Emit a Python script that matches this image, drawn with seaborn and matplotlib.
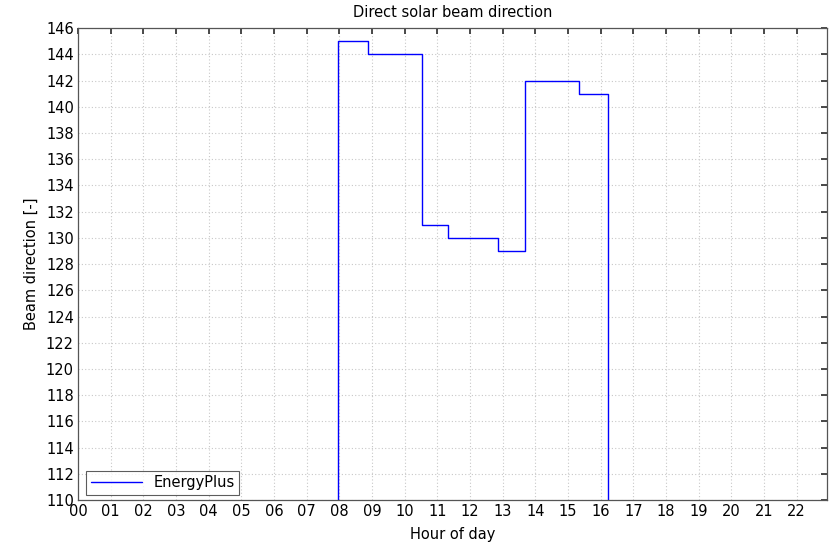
import matplotlib
matplotlib.use("Agg")
import matplotlib.pyplot as plt
import seaborn as sns
import pandas as pd
import numpy as np

# Data (step changes, hours of day)
hours = [0.0, 7.97, 8.87, 10.52, 11.33, 12.87, 13.67, 15.33, 16.23, 22.92]
beam_dir = [0, 145, 144, 131, 130, 129, 142, 141, 0, 0]
xtick_vals = list(range(0, 23))
xtick_labels = [f"{h:02d}" for h in xtick_vals]
ytick_vals = list(range(110, 147, 2))

df = pd.DataFrame({"Hour": hours, "Beam": beam_dir, "Series": "EnergyPlus"})

sns.set_theme(style="white")
plt.rcParams['font.family'] = ['DejaVu Sans']
plt.rcParams['text.color'] = 'black'
plt.rcParams['axes.labelcolor'] = 'black'

fig = plt.figure(figsize=(8.36, 5.43), dpi=100)
ax = fig.add_axes([0.0933, 0.0792, 0.8957, 0.8688])

sns.lineplot(data=df, x="Hour", y="Beam", hue="Series", palette=["#0000ff"],
             estimator=None, sort=False, drawstyle="steps-post", linewidth=1.0, ax=ax)

ax.set_xlim(0, 22.92)
ax.set_ylim(110, 146)
ax.set_xticks(xtick_vals)
ax.set_xticklabels(xtick_labels)
ax.set_yticks(ytick_vals)
ax.grid(True, linestyle=(0, (1, 2)), color="#c8c8c8", linewidth=0.8)
ax.tick_params(direction="in", length=4, top=True, right=True, labelsize=10.5,
               colors="#333333", labelcolor="black", pad=3)
for s in ax.spines.values():
    s.set_color("#555555")
    s.set_linewidth(0.9)

ax.set_title("Direct solar beam direction", fontsize=10.5, pad=8, color="black")
ax.set_xlabel("Hour of day", fontsize=10.5, labelpad=6, color="black")
ax.set_ylabel("Beam direction [-]", fontsize=10.5, labelpad=5, color="black")

leg = ax.legend(loc="lower left", fontsize=10.5, frameon=True, fancybox=False,
                edgecolor="#333333", handlelength=3.5, borderaxespad=0,
                borderpad=0.3, bbox_to_anchor=(0.011, 0.011))
leg.get_frame().set_linewidth(0.8)
leg.set_title(None)
for t in leg.get_texts():
    t.set_color("black")

fig.savefig("out.png", dpi=100)
